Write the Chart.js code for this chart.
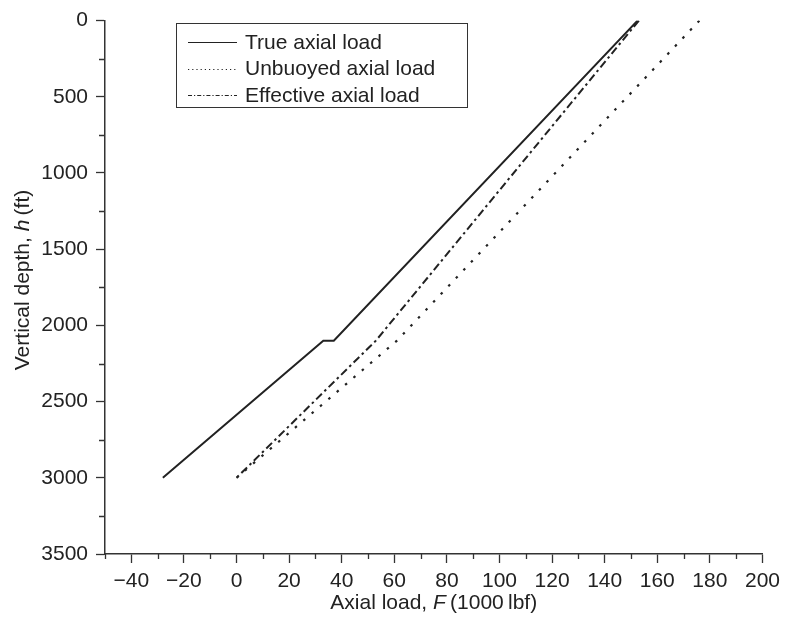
<!DOCTYPE html>
<html>
<head>
<meta charset="utf-8">
<script src="https://cdn.jsdelivr.net/npm/chart.js@4/dist/chart.umd.min.js"></script>
<style>
  html, body { margin: 0; padding: 0; background: #fff; }
  #wrap { width: 786px; height: 620px; }
</style>
</head>
<body>
<div id="wrap"><canvas id="loadChart" width="786" height="620"></canvas></div>
<script>
// series values (axial load in 1000 lbf vs vertical depth in ft)
const trueDepth = [0, 2100, 2100, 3000];
const trueLoad = [152.5, 37, 33, -28];
const unbuoyedDepth = [0, 2100, 3000];
const unbuoyedLoad = [176, 61, 0];
const effectiveDepth = [0, 2100, 3000];
const effectiveLoad = [153, 53, 0];

const seriesLabels = ['True axial load', 'Unbuoyed axial load', 'Effective axial load'];

// tick labels
const xTicks = [-40, -20, 0, 20, 40, 60, 80, 100, 120, 140, 160, 180, 200];
const yTicks = [0, 500, 1000, 1500, 2000, 2500, 3000, 3500];

const FONT = '"Liberation Sans", Arial, Helvetica, sans-serif';
const INK = '#222';
const FS = 21;

function pts(xs, ys){ return xs.map((x, i) => ({ x: x, y: ys[i] })); }

// minor ticks + axis titles + legend box
const extras = {
  id: 'extras',
  afterDraw(chart){
    const c = chart.ctx, xs = chart.scales.x, ys = chart.scales.y, a = chart.chartArea;
    c.save();
    c.strokeStyle = '#333';
    c.lineWidth = 1.3;
    c.beginPath();
    for (let v = -50; v <= 200; v += 10){
      if (v % 20 === 0) continue;
      const px = Math.round(xs.getPixelForValue(v)) + 0.5;
      c.moveTo(px, a.bottom); c.lineTo(px, a.bottom + 5);
    }
    for (let v = 250; v < 3500; v += 500){
      const py = Math.round(ys.getPixelForValue(v)) + 0.5;
      c.moveTo(a.left, py); c.lineTo(a.left - 6, py);
    }
    c.stroke();

    // axis titles with italic symbols
    c.fillStyle = INK;
    c.textBaseline = 'middle';
    function mixed(parts, cx, cy){
      let w = 0;
      parts.forEach(p => { c.font = p[1] + FS + 'px ' + FONT; w += c.measureText(p[0]).width; });
      let x = cx - w / 2;
      parts.forEach(p => {
        c.font = p[1] + FS + 'px ' + FONT;
        c.fillText(p[0], x, cy);
        x += c.measureText(p[0]).width;
      });
    }
    c.textAlign = 'left';
    mixed([['Axial load, ', ''], ['F', 'italic '], ['\u2009(1000\u2009lbf)', '']], (a.left + a.right) / 2, 603);
    c.save();
    c.translate(23, 280);
    c.rotate(-Math.PI / 2);
    mixed([['Vertical depth, ', ''], ['h', 'italic '], ['\u2009(ft)', '']], 0, 0);
    c.restore();

    // legend
    c.lineWidth = 1;
    c.strokeStyle = '#333';
    c.setLineDash([]);
    c.strokeRect(176.5, 23.5, 291, 84);
    const sampleDash = [[], [1.2, 3], [4, 2, 1.2, 2]];
    c.font = FS + 'px ' + FONT;
    chart.data.datasets.forEach((ds, i) => {
      const y = 42 + i * 26.5;
      c.setLineDash(sampleDash[i]);
      c.lineWidth = 1.2;
      c.strokeStyle = INK;
      c.beginPath();
      c.moveTo(188, Math.round(y) + 0.5);
      c.lineTo(237, Math.round(y) + 0.5);
      c.stroke();
      c.fillText(ds.label, 245, y + 1);
    });
    c.restore();
  }
};

new Chart(document.getElementById('loadChart'), {
  type: 'line',
  data: {
    datasets: [
      { label: seriesLabels[0], data: pts(trueLoad, trueDepth), borderColor: INK, borderWidth: 2, pointRadius: 0, borderDash: [] },
      { label: seriesLabels[1], data: pts(unbuoyedLoad, unbuoyedDepth), borderColor: INK, borderWidth: 2.2, pointRadius: 0, borderDash: [2.5, 8.5] },
      { label: seriesLabels[2], data: pts(effectiveLoad, effectiveDepth), borderColor: INK, borderWidth: 2, pointRadius: 0, borderDash: [8, 3.5, 2.5, 3.5] }
    ]
  },
  plugins: [extras],
  options: {
    responsive: false,
    animation: false,
    layout: { padding: { left: 0, right: 18, top: 16, bottom: 0 } },
    plugins: { legend: { display: false }, tooltip: { enabled: false } },
    elements: { line: { tension: 0, fill: false } },
    scales: {
      x: {
        type: 'linear',
        min: -50, max: 200,
        afterBuildTicks: s => { s.ticks = xTicks.map(v => ({ value: v })); },
        afterFit: s => { s.height = 66; },
        ticks: {
          padding: 6, color: INK,
          font: { family: FONT, size: FS },
          callback: v => String(v).replace('-', '\u2212'),
          maxRotation: 0, autoSkip: false
        },
        grid: { display: true, drawOnChartArea: false, drawTicks: true, tickLength: 9, tickColor: '#333', tickWidth: 1.3 },
        border: { display: true, color: '#333', width: 1.5 }
      },
      y: {
        type: 'linear',
        reverse: true,
        min: 0, max: 3500,
        afterBuildTicks: s => { s.ticks = yTicks.map(v => ({ value: v })); },
        afterFit: s => { s.width = 105; },
        ticks: {
          padding: 8, color: INK,
          font: { family: FONT, size: FS },
          callback: v => String(v)
        },
        grid: { display: true, drawOnChartArea: false, drawTicks: true, tickLength: 9, tickColor: '#333', tickWidth: 1.3 },
        border: { display: true, color: '#333', width: 1.5 }
      }
    }
  }
});
</script>
</body>
</html>
